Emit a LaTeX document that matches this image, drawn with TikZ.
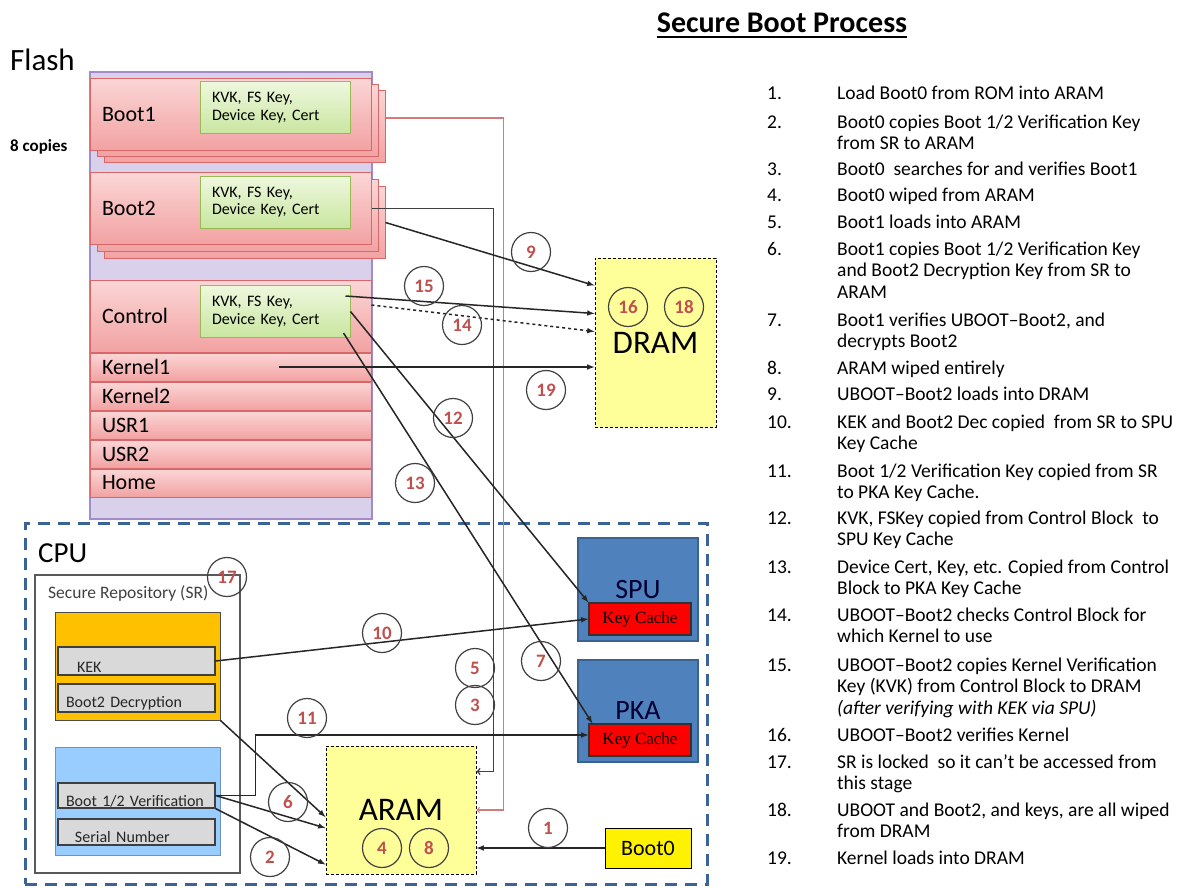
\documentclass[tikz,border=0pt]{standalone}
\usepackage{fontspec}
\setmainfont{Carlito}
\newfontfamily\cachefont{Liberation Serif}
\usetikzlibrary{positioning,calc,arrows}

\definecolor{flashfill}{HTML}{D9D1EB}
\definecolor{flashline}{HTML}{9F8CC8}
\definecolor{parttop}{HTML}{FBD6D6}
\definecolor{partbot}{HTML}{F2A2A2}
\definecolor{partline}{HTML}{D9676A}
\definecolor{keytop}{HTML}{EEF8DE}
\definecolor{keybot}{HTML}{C9E6A0}
\definecolor{keyline}{HTML}{98B954}
\definecolor{oranfill}{HTML}{FFC000}
\definecolor{bluefill}{HTML}{99CCFF}
\definecolor{blueline}{HTML}{6F93BC}
\definecolor{cellfill}{HTML}{D9D9D9}
\definecolor{cellline}{HTML}{3F3F3F}
\definecolor{cpuline}{HTML}{3A6397}
\definecolor{unitfill}{HTML}{4F81BD}
\definecolor{unitline}{HTML}{3A6290}
\definecolor{ramfill}{HTML}{FFFF99}
\definecolor{numred}{HTML}{C0504D}
\definecolor{circline}{HTML}{404040}
\definecolor{flowcol}{HTML}{262626}
\definecolor{redflow}{HTML}{D47A7A}
\definecolor{grayflow}{HTML}{404040}

\tikzstyle{part} = [draw=partline, line width=1pt, top color=parttop, bottom color=partbot,
                    text width=257, inner xsep=12, inner ysep=0, align=left,
                    font=\fontsize{22}{24}\selectfont]
\tikzstyle{keys} = [draw=keyline, line width=1pt, top color=keytop, bottom color=keybot,
                    text width=126, inner xsep=12, inner ysep=0, minimum height=52, align=left,
                    font=\fontsize{16}{17.5}\selectfont]
\tikzstyle{cell} = [draw=cellline, fill=cellfill, line width=1.2pt, text width=141,
                    inner xsep=8, inner ysep=0, align=left, text depth=3,
                    font=\fontsize{16}{17}\selectfont, text=black!85]
\tikzstyle{unit} = [draw=unitline, fill=unitfill, line width=1.5pt, minimum width=120,
                    font=\fontsize{28}{30}\selectfont, text=black!80!blue]
\tikzstyle{cache} = [draw=black!80, fill=red, line width=1.2pt, minimum width=102,
                     minimum height=32, font=\cachefont\fontsize{17}{19}\selectfont]
\tikzstyle{ram} = [draw=black, fill=ramfill, line width=1pt, dash pattern=on 3pt off 2pt,
                   font=\fontsize{33}{35}\selectfont]
\tikzstyle{num} = [circle, draw=circline, line width=1.2pt, minimum size=39, inner sep=0,
                   text=numred, font=\bfseries\fontsize{19}{19}\selectfont]
\tikzstyle{flow} = [-latex, line width=1.5pt, draw=flowcol]
\tikzstyle{hook} = [-to, line width=1.5pt]
\tikzstyle{steptext} = [anchor=north west, yshift=15.05pt, inner sep=0, align=left,
                        font=\fontsize{19.5}{21.5}\selectfont]

\begin{document}
\begin{tikzpicture}[x=1pt, y=-1pt]
   \useasboundingbox (0,0) rectangle (1184,887);

   % headings
   \node[inner sep=0, font=\bfseries\fontsize{30}{32}\selectfont] (title) at (782,23) {Secure Boot Process};
   \draw[line width=2pt] ($(title.south west)+(0,4)$) -- ($(title.south east)+(0,4)$);
   \node[anchor=west, inner sep=0, font=\fontsize{31}{33}\selectfont] (flashlabel) at (10,60) {Flash};
   \node[anchor=west, inner sep=0, font=\bfseries\fontsize{17}{19}\selectfont] (copies) at (10,147) {8 copies};

   % flash partitions
   \node[draw=flashline, fill=flashfill, line width=1.2pt, minimum width=282, minimum height=447] (flash) at (231,295.5) {};
   \node[part, minimum height=72] (boot1cc) at (244.5,126) {};
   \node[part, minimum height=72] (boot1c)  at (237.5,120) {};
   \node[part, minimum height=72] (boot1)   at (230.5,114) {Boot1};
   \node[part, minimum height=72] (boot2cc) at (244.5,222.5) {};
   \node[part, minimum height=72] (boot2c)  at (237.5,215.5) {};
   \node[part, minimum height=72] (boot2)   at (230.5,208.5) {Boot2};
   \node[part, minimum height=72] (control) at (230.5,316) {Control};
   \node[part, minimum height=28] (kernel1) [below=0pt of control] {Kernel1};
   \node[part, minimum height=28] (kernel2) [below=0pt of kernel1] {Kernel2};
   \node[part, minimum height=28] (usr1)    [below=0pt of kernel2] {USR1};
   \node[part, minimum height=28] (usr2)    [below=0pt of usr1] {USR2};
   \node[part, minimum height=28] (home)    [below=0pt of usr2] {Home};
   \node[keys] (boot1key) at (275,107.5) {KVK, FS Key,\\Device Key, Cert};
   \node[keys] (boot2key) at (275,202)   {KVK, FS Key,\\Device Key, Cert};
   \node[keys] (ctrlkey)  at (275,311.5) {KVK, FS Key,\\Device Key, Cert};

   % dram
   \node[ram, minimum width=121, minimum height=169] (dram) at (655.5,342.5) {DRAM};

   % cpu
   \node[draw=cpuline, line width=3pt, dash pattern=on 12pt off 8pt, minimum width=682, minimum height=361] (cpu) at (366,703.5) {};
   \node[anchor=west, inner sep=0, font=\fontsize{29}{31}\selectfont] (cpulabel) at (38,553) {CPU};
   \node[draw=black!65, line width=1.2pt, minimum width=205, minimum height=298] (sr) at (137.5,724) {};
   \node[anchor=west, inner sep=0, text=black!75, font=\fontsize{17.5}{19}\selectfont] (srlabel) at (48,593) {Secure Repository (SR)};
   \node[draw=black!70, fill=oranfill, line width=1pt, minimum width=165, minimum height=108] (orange) at (137.5,666) {};
   \node[draw=blueline, fill=bluefill, line width=1pt, minimum width=165, minimum height=108] (blue) at (137.5,801) {};
   \node[cell, text height=25] (kek)    at (136.5,661)   {\hspace{11pt}KEK};
   \node[cell, text height=23, text depth=5] (b2dec) at (136.5,698) {Boot2 Decryption};
   \node[cell, text height=23, text depth=2] (verif) at (136.5,795.5) {Boot 1/2 Verification};
   \node[cell, text height=23] (serial) at (136.5,832) {\hspace{9pt}Serial Number};

   \node[unit, minimum height=103] (spu) at (638,589.5) {SPU};
   \node[unit, minimum height=102] (pka) at (638,711) {PKA};
   \node[cache] (spukc) at (640,619) {Key Cache};
   \node[cache] (pkakc) at (640,740) {Key Cache};
   \node[ram, minimum width=150, minimum height=128] (aram) at (401,810) {ARAM};
   \node[draw=black, fill=yellow, line width=1pt, minimum width=86, minimum height=40,
         font=\fontsize{22}{24}\selectfont] (boot0) at (648,848) {Boot0};

   % connectors
   \draw[hook, draw=redflow, line width=1.2pt] ($(boot1cc.east |- boot1.east)+(0,4)$) -| ($(aram.east)+(27,0)$) -- (aram.east);
   \draw[hook, draw=grayflow] (boot2.east) -| ($(aram.north east)+(17,26)$) -- ($(aram.north east)+(0,26)$);
   \draw[flow] (boot2cc.east) -- ($(dram.north west)+(0,28)$);
   \draw[flow] ($(ctrlkey.north east)+(-5,11)$) -- ($(dram.north west)+(0,56)$);
   \draw[flow, dashed] ($(control.east)+(0,-11)$) -- ($(dram.north west)+(0,74)$);
   \draw[flow] ($(kernel1.center)+(48,0)$) -- (dram.west |- kernel1.center);
   \draw[flow] (ctrlkey.east) -- (spukc.north west);
   \draw[flow] ($(ctrlkey.south east)+(-7,-5)$) -- ($(pkakc.north west)+(4,0)$);
   \draw[flow] (kek.east) -- (spukc.west);
   \draw[flow] (verif.east) -- ++(40,0) |- ($(pkakc.west)+(0,-5)$);
   \draw[flow] (orange.south east) -- ($(aram.west)+(0,7)$);
   \draw[flow] (verif.east) -- ($(aram.west)+(0,18)$);
   \draw[flow] (verif.south east) -- ($(aram.south west)+(0,-10)$);
   \draw[flow] (boot0.west) -- (aram.east |- boot0.west);

   % step numbers
   \node[num] (c1)  at (548,828) {1};
   \node[num] (c2)  at (270,857) {2};
   \node[num] (c3)  at (475,705) {3};
   \node[num] (c4)  at (382,848) {4};
   \node[num] (c5)  at (475,668) {5};
   \node[num] (c6)  at (288,802) {6};
   \node[num] (c7)  at (541,661) {7};
   \node[num] (c8)  at (429,848) {8};
   \node[num] (c9)  at (531,252) {9};
   \node[num] (c10) at (382,633) {10};
   \node[num] (c11) at (307,718) {11};
   \node[num] (c12) at (453,418) {12};
   \node[num] (c13) at (415,483) {13};
   \node[num] (c14) at (462,325) {14};
   \node[num] (c15) at (424,286) {15};
   \node[num] (c16) at (628,307) {16};
   \node[num] (c17) at (227,577) {17};
   \node[num] (c18) at (684,307) {18};
   \node[num] (c19) at (546,390) {19};

   % step list
   \foreach \y/\n/\t in {
      99/1/{Load Boot0 from ROM into ARAM},
      128/2/{Boot0 copies Boot 1/2 Verification Key\\from SR to ARAM},
      175/3/{Boot0 \ searches for and verifies Boot1},
      201/4/{Boot0 wiped from ARAM},
      228/5/{Boot1 loads into ARAM},
      255/6/{Boot1 copies Boot 1/2 Verification Key\\and Boot2 Decryption Key from SR to\\ARAM},
      326/7/{Boot1 verifies UBOOT--Boot2, and\\decrypts Boot2},
      374/8/{ARAM wiped entirely},
      400/9/{UBOOT--Boot2 loads into DRAM},
      428/10/{KEK and Boot2 Dec copied \ from SR to SPU\\Key Cache},
      477/11/{Boot 1/2 Verification Key copied from SR\\to PKA Key Cache.},
      524/12/{KVK, FSKey copied from Control Block \ to\\SPU Key Cache},
      573/13/{Device Cert, Key, etc. Copied from Control\\Block to PKA Key Cache},
      621/14/{UBOOT--Boot2 checks Control Block for\\which Kernel to use},
      671/15/{UBOOT--Boot2 copies Kernel Verification\\Key (KVK) from Control Block to DRAM\\{\itshape (after verifying with KEK via SPU)}},
      741/16/{UBOOT--Boot2 verifies Kernel},
      768/17/{SR is locked \ so it can’t be accessed from\\this stage},
      816/18/{UBOOT and Boot2, and keys, are all wiped\\from DRAM},
      864/19/{Kernel loads into DRAM}}
   {
      \node[steptext] (n\n) at (767,\y) {\strut\n.};
      \node[steptext] (s\n) at (837,\y) {\strut\t};
   }

\end{tikzpicture}
\end{document}
